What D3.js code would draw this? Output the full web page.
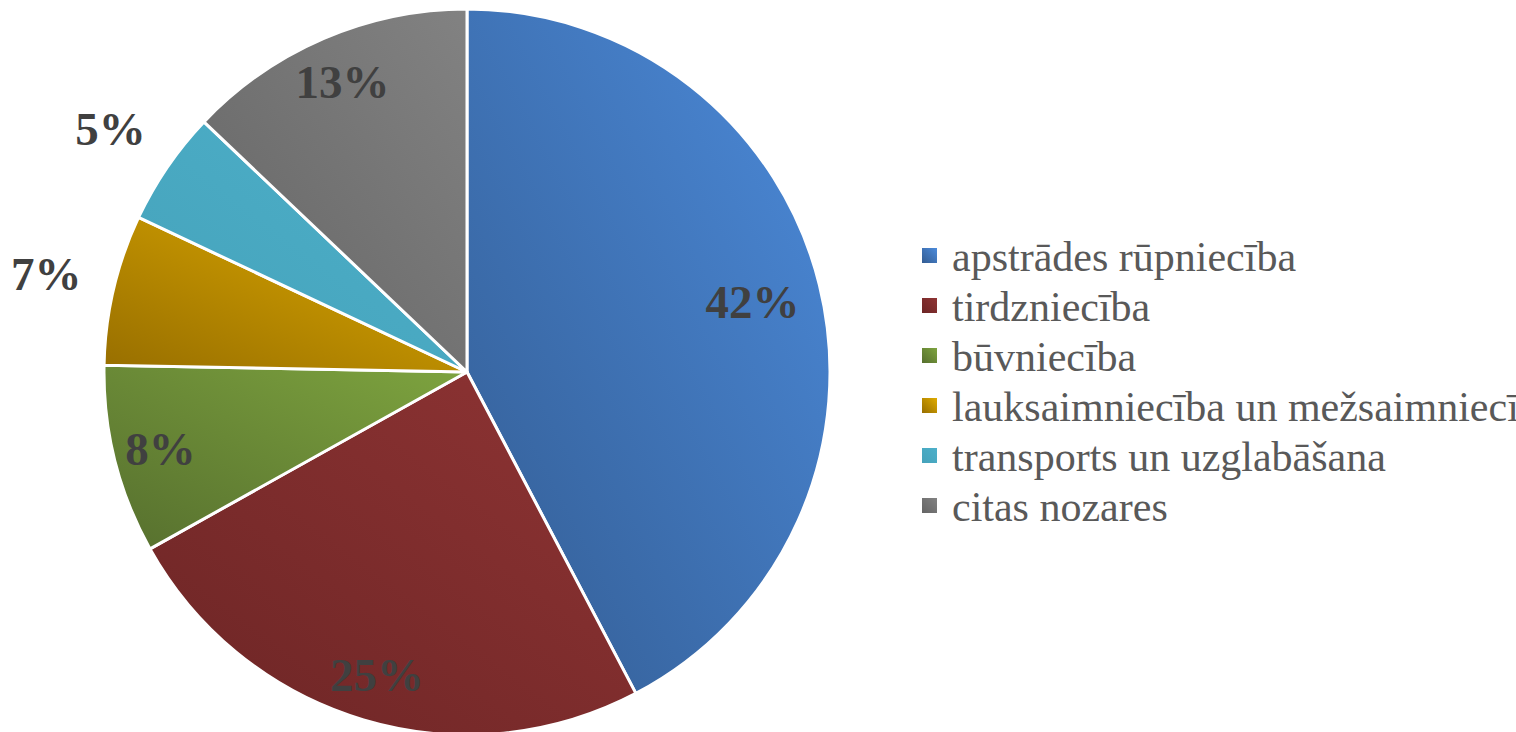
<!DOCTYPE html>
<html>
<head>
<meta charset="utf-8">
<script src="https://cdn.jsdelivr.net/npm/d3@7"></script>
<style>
  body { margin: 0; background: #fff; }
  svg { display: block; }
  text { font-family: "Times New Roman", "Liberation Serif", Times, serif; }
</style>
</head>
<body>
<svg id="chart" width="1516" height="732"></svg>
<script>
// sector shares, %
const categories = ["apstrādes rūpniecība", "tirdzniecība", "būvniecība",
  "lauksaimniecība un mežsaimniecība", "transports un uzglabāšana", "citas nozares"]
const values = [42.3, 24.6, 8.4, 6.7, 5.1, 12.9]
// light / dark ends of each slice gradient
const lightColors = ["#4c8bdb", "#8f3434", "#7ea43f", "#dfab00", "#4db0ca", "#828282"]
const darkColors = ["#335c92", "#6c2525", "#566f2e", "#976e00", "#45a2ba", "#646464"]

let svg = d3.select("#chart")
let cx = 467, cy = 372, R = 363

let defs = svg.append("defs")
categories.forEach((c, i) => {
    let g = defs.append("linearGradient").attr("id", "grad" + i)
        .attr("x1", 1).attr("y1", 0).attr("x2", 0).attr("y2", 1)
    g.append("stop").attr("offset", 0).attr("stop-color", lightColors[i])
    g.append("stop").attr("offset", 1).attr("stop-color", darkColors[i])
})

let pie = d3.pie().sort(null).value(d => d)
let arcs = pie(values)
let arc = d3.arc().innerRadius(0).outerRadius(R)

let g = svg.append("g").attr("transform", "translate(" + cx + "," + cy + ")")
g.selectAll("path").data(arcs).enter().append("path")
    .attr("d", arc)
    .attr("fill", (d, i) => "url(#grad" + i + ")")
    .attr("stroke", "#fff")
    .attr("stroke-width", 3)
    .attr("stroke-linejoin", "round")

// small slices get labels outside the pie
g.selectAll("text.lbl").data(arcs).enter().append("text")
    .attr("class", "lbl")
    .attr("transform", d => {
        let a = (d.startAngle + d.endAngle) / 2
        let r = d.value < 8 ? R * 1.19 : (d.value > 40 ? R * 0.81 : R * 0.87)
        return "translate(" + (Math.sin(a) * r) + "," + (-Math.cos(a) * r) + ")"
    })
    .attr("text-anchor", "middle")
    .attr("dy", "0.35em")
    .style("font-weight", "bold")
    .style("font-size", "47px")
    .style("fill", "#404040")
    .text(d => Math.round(d.value) + "%")

let legend = svg.append("g").attr("transform", "translate(922, 256)")
let rows = legend.selectAll("g").data(categories).enter().append("g")
    .attr("transform", (d, i) => "translate(0," + (i * 50) + ")")
rows.append("rect")
    .attr("x", 0).attr("y", -8).attr("width", 15).attr("height", 15)
    .attr("fill", (d, i) => "url(#grad" + i + ")")
rows.append("text")
    .attr("x", 30).attr("dy", "0.35em")
    .style("font-size", "42px")
    .style("fill", "#595959")
    .text(d => d)
</script>
</body>
</html>
